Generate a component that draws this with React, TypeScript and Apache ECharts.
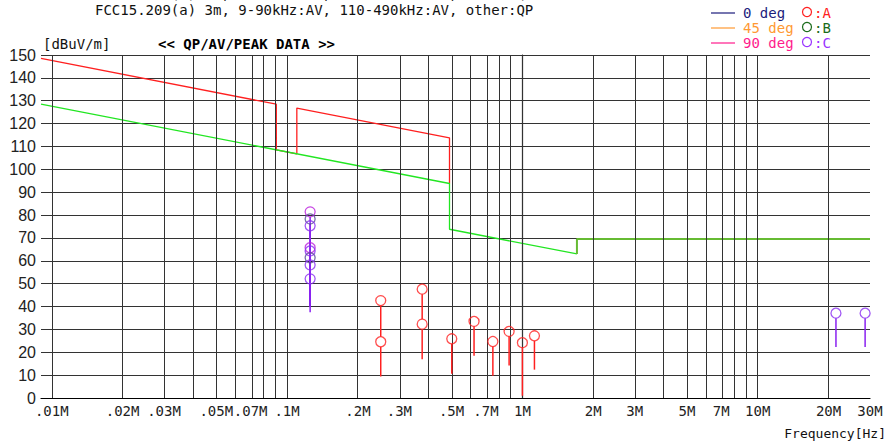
import React, { useEffect, useRef } from "react";
import * as echarts from "echarts";

// ---- data ----
const xMinMHz = 0.009;
const xMaxMHz = 30;
const xLabelFreqMHz = [0.01, 0.02, 0.03, 0.05, 0.07, 0.1, 0.2, 0.3, 0.5, 0.7, 1, 2, 3, 5, 7, 10, 20, 30];
const xGridFreqMHz = [
  0.01, 0.02, 0.03, 0.04, 0.05, 0.06, 0.07, 0.08, 0.09,
  0.1, 0.2, 0.3, 0.4, 0.5, 0.6, 0.7, 0.8, 0.9,
  1, 2, 3, 4, 5, 6, 7, 8, 9,
  10, 20, 30,
];

// Limit lines (dBuV/m)
const limitPkFreqMHz = [0.009, 0.09, 0.09, 0.11, 0.11, 0.49, 0.49];
const limitPkLevel = [148.5, 128.5, 108.5, 106.8, 126.8, 113.8, 93.8];
const limitAvFreqMHz = [0.009, 0.49, 0.49, 1.705];
const limitAvLevel = [128.5, 93.8, 73.8, 63.0];
const limitQpFreqMHz = [1.705, 1.705, 30];
const limitQpLevel = [63.0, 69.5, 69.5];

// Measured points, position A (red)
const aFreqMHz = [0.25, 0.25, 0.375, 0.375, 0.501, 0.623, 0.749, 0.878, 1.0, 1.125];
const aLevel = [42.6, 24.6, 47.6, 32.3, 25.9, 33.5, 24.7, 29.1, 24.2, 27.2];
const aStemEnd = [26.8, 9.4, 34.5, 17.0, 10.6, 18.5, 9.7, 14.2, 1.0, 12.4];

// Measured points, position C (purple)
const cFreqMHz = [0.1253, 0.1253, 0.1253, 0.1253, 0.1253, 0.1253, 0.1253, 0.1253, 21.5, 28.6];
const cLevel = [81.4, 78.3, 75.3, 65.7, 64.3, 61.3, 58.2, 52.1, 37.1, 37.1];
const cStemEnd = [41, 41, 40, 41, 40, 41, 40, 37.5, 22.3, 22.3];
const cAngle = ["90", "0", "-", "90", "-", "0", "-", "-", "-", "-"];

// ---- styles ----
const MONO = '"DejaVu Sans Mono", monospace';
const RED = "#ff2020";
const GREEN = "#22e622";
const OLIVE = "#66bb33";
const PURPLE = "#9933ff";
const C_TONE: Record<string, string> = { "90": "#bb22dd", "0": "#5a4a9a", "-": "#8a2ff0" };

const lg = (f: number) => Math.log10(f);

function labelFmt(v: number) {
  const f = Math.pow(10, v);
  const r = Math.round(f * 1000) / 1000;
  if (r < 1) return String(r).replace(/^0/, "") + "M";
  return String(Math.round(r)) + "M";
}

export default function App() {
  const ref = useRef<HTMLDivElement>(null);
  useEffect(() => {
    if (!ref.current) return;
    const chart = echarts.init(ref.current, null, { renderer: "svg" });

    const stemRender = (color: string) => (params: any, api: any) => {
      const p1 = api.coord([api.value(0), api.value(1)]);
      const p2 = api.coord([api.value(0), api.value(2)]);
      return {
        type: "line",
        shape: { x1: p1[0], y1: p1[1] + 5, x2: p2[0], y2: p2[1] },
        style: { stroke: color, lineWidth: 1.5 },
      };
    };

    const legendRows = [
      { y: 13, line: "#1c1c7c", txt: "0 deg", circ: RED, ct: ":A" },
      { y: 28, line: "#ff9933", txt: "45 deg", circ: "#1a6b1a", ct: ":B" },
      { y: 43, line: "#ff1a8c", txt: "90 deg", circ: PURPLE, ct: ":C" },
    ];
    const graphics: any[] = [];
    legendRows.forEach((r) => {
      graphics.push({ type: "line", shape: { x1: 711, y1: r.y, x2: 735, y2: r.y }, style: { stroke: r.line, lineWidth: 1.2 } });
      graphics.push({ type: "text", x: 743, y: r.y, style: { text: r.txt, fill: r.line, font: `14px ${MONO}`, textVerticalAlign: "middle" } });
      graphics.push({ type: "circle", shape: { cx: 807, cy: r.y - 1, r: 4.5 }, style: { fill: "none", stroke: r.circ, lineWidth: 1.2 } });
      graphics.push({ type: "text", x: 814, y: r.y, style: { text: r.ct, fill: r.circ, font: `14px ${MONO}`, textVerticalAlign: "middle" } });
    });
    graphics.push({ type: "text", x: 28, y: -6, style: { text: "Limit:", fill: "#111", font: `14px ${MONO}`, textVerticalAlign: "middle" } });
    graphics.push({ type: "text", x: 95, y: -6, style: { text: "FCC15.209(a) 3m, 9-90kHz:PK, 110-490kHz:PK, other:QP", fill: "#111", font: `14px ${MONO}`, textVerticalAlign: "middle" } });
    graphics.push({ type: "text", x: 95, y: 10, style: { text: "FCC15.209(a) 3m, 9-90kHz:AV, 110-490kHz:AV, other:QP", fill: "#111", font: `14px ${MONO}`, textVerticalAlign: "middle" } });
    graphics.push({ type: "text", x: 43, y: 44, style: { text: "[dBuV/m]", fill: "#111", font: `14px ${MONO}`, textVerticalAlign: "middle" } });
    graphics.push({ type: "text", x: 158, y: 44, style: { text: "<< QP/AV/PEAK DATA >>", fill: "#000", font: `bold 14px ${MONO}`, textVerticalAlign: "middle" } });
    graphics.push({ type: "text", x: 886, y: 433, style: { text: "Frequency[Hz]", fill: "#111", font: `13px ${MONO}`, textAlign: "right", textVerticalAlign: "middle" } });

    chart.setOption({
      animation: false,
      backgroundColor: "#fff",
      grid: { left: 41, right: 20, top: 55, bottom: 45 },
      xAxis: {
        type: "value",
        min: lg(xMinMHz),
        max: lg(xMaxMHz),
        axisLine: { show: true, lineStyle: { color: "#000", width: 1.2 } },
        axisTick: { show: false },
        splitLine: { show: false },
        axisLabel: {
          customValues: xLabelFreqMHz.map(lg),
          formatter: (v: number) => labelFmt(v),
          fontFamily: MONO,
          fontSize: 14,
          color: "#222",
          margin: 6,
        },
      },
      yAxis: {
        type: "value",
        min: 0,
        max: 150,
        interval: 10,
        axisLine: { show: true, lineStyle: { color: "#000", width: 1.2 } },
        axisTick: { show: false },
        splitLine: { show: true, lineStyle: { color: "#333", width: 1 } },
        axisLabel: { fontFamily: '"Liberation Sans", Arial, sans-serif', fontSize: 16, color: "#222", margin: 5 },
      },
      graphic: graphics,
      series: [
        {
          type: "line",
          data: [],
          silent: true,
          z: 1,
          markLine: {
            silent: true,
            symbol: ["none", "none"],
            label: { show: false },
            lineStyle: { color: "#333", width: 1, type: "solid" },
            data: xGridFreqMHz.map((f) => ({ xAxis: lg(f) })),
          },
        },
        {
          type: "line",
          z: 3,
          symbol: "none",
          lineStyle: { color: RED, width: 1.3 },
          data: limitPkFreqMHz.map((f, i) => [lg(f), limitPkLevel[i]]),
        },
        {
          type: "line",
          z: 4,
          symbol: "none",
          lineStyle: { color: GREEN, width: 1.3 },
          data: limitAvFreqMHz.map((f, i) => [lg(f), limitAvLevel[i]]),
        },
        {
          type: "line",
          z: 4,
          symbol: "none",
          lineStyle: { color: OLIVE, width: 2 },
          data: limitQpFreqMHz.map((f, i) => [lg(f), limitQpLevel[i]]),
        },
        {
          type: "custom",
          z: 5,
          renderItem: stemRender(RED),
          encode: { x: 0, y: [1, 2] },
          data: aFreqMHz.map((f, i) => [lg(f), aLevel[i], aStemEnd[i]]),
        },
        {
          type: "custom",
          z: 5,
          renderItem: stemRender("#8a22f0"),
          encode: { x: 0, y: [1, 2] },
          data: cFreqMHz.map((f, i) => [lg(f), cLevel[i], cStemEnd[i]]),
        },
        {
          type: "scatter",
          z: 6,
          symbol: "circle",
          symbolSize: 10,
          itemStyle: { color: "transparent", borderColor: RED, borderWidth: 1.3 },
          data: aFreqMHz.map((f, i) => [lg(f), aLevel[i]]),
        },
        {
          type: "scatter",
          z: 6,
          symbol: "circle",
          symbolSize: 10,
          data: cFreqMHz.map((f, i) => ({
            value: [lg(f), cLevel[i]],
            itemStyle: { color: "transparent", borderColor: C_TONE[cAngle[i]], borderWidth: 1.3 },
          })),
        },
      ],
    });
    return () => chart.dispose();
  }, []);
  return <div ref={ref} style={{ position: "fixed", left: 0, top: 0, width: 890, height: 443 }} />;
}
